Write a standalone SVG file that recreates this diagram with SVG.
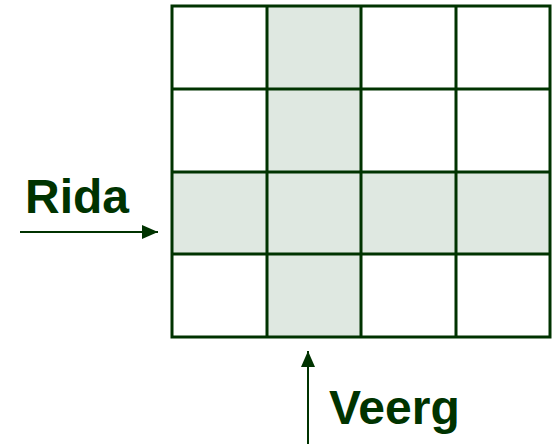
<svg xmlns="http://www.w3.org/2000/svg" width="554" height="444" viewBox="0 0 554 444">
<style>
.shade{fill:#dfe8e1;stroke:none}
.grid{stroke:#003300;stroke-width:3;fill:none}
.lbl{font-family:"Liberation Sans",Arial,sans-serif;font-weight:bold;font-size:48px;fill:#003300}
.arr{stroke:#003300;stroke-width:2;fill:none}
</style>
<defs>
<marker id="ah" viewBox="0 0 10 10" refX="10" refY="5" markerWidth="8" markerHeight="7" markerUnits="strokeWidth" orient="auto" preserveAspectRatio="none">
<path d="M0,0 L10,5 L0,10 Z" fill="#003300"/>
</marker>
</defs>
<g id="grid">
<rect class="shade" x="267" y="6" width="94" height="331"/>
<rect class="shade" x="172" y="172" width="378" height="82"/>
<rect class="grid" x="172" y="6" width="378" height="331"/>
<path class="grid" d="M267,6V337M361,6V337M456,6V337M172,89H550M172,172H550M172,254H550"/>
</g>
<g id="rida">
<text class="lbl" x="25" y="213">Rida</text>
</g>
<g id="veerg">
<text class="lbl" x="329" y="424">Veerg</text>
</g>
<g id="connectors">
<line class="arr" x1="20" y1="232" x2="158" y2="232" marker-end="url(#ah)"/>
<line class="arr" x1="308" y1="444" x2="308" y2="351" marker-end="url(#ah)"/>
</g>
</svg>
